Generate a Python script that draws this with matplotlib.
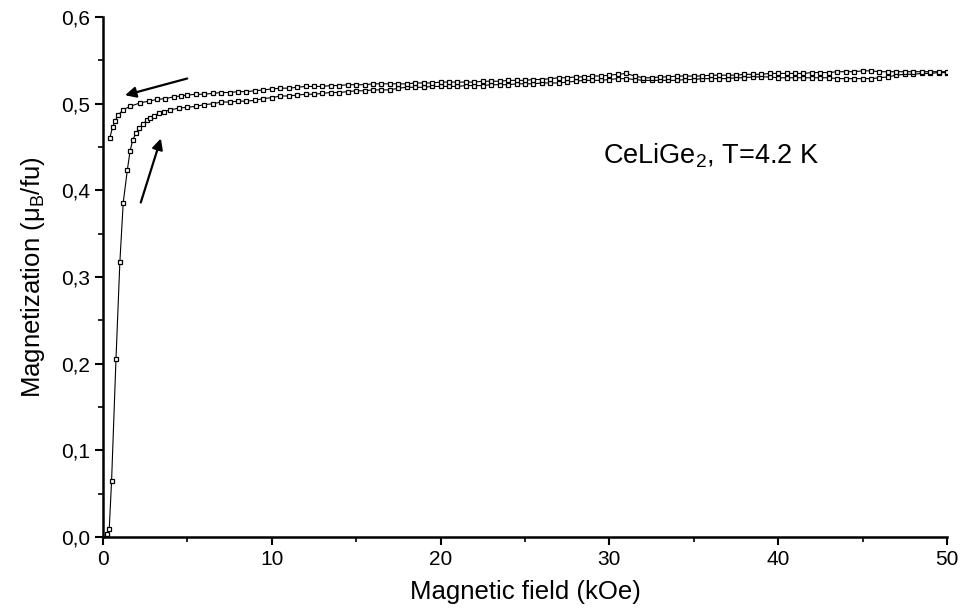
import numpy as np
import matplotlib.pyplot as plt
from matplotlib.ticker import MultipleLocator, FuncFormatter

# field sweep up (virgin curve), kOe and mu_B/fu
field_up = [0.25, 0.37, 0.51, 0.77, 1.0, 1.2, 1.44, 1.6, 1.76, 1.95, 2.15, 2.4, 2.6,
            2.8, 3.0, 3.3, 3.6, 4.0, 4.5] + [5.0 + 0.5 * i for i in range(91)]
mag_up = [0.003, 0.009, 0.065, 0.205, 0.317, 0.386, 0.423, 0.445, 0.458, 0.466, 0.472,
          0.477, 0.481, 0.484, 0.486, 0.489, 0.491, 0.493, 0.495,
          0.496, 0.497, 0.499, 0.500, 0.502, 0.502, 0.503, 0.503, 0.504, 0.506,
          0.507, 0.509, 0.509, 0.510, 0.511, 0.511, 0.512, 0.513, 0.513, 0.514,
          0.515, 0.515, 0.516, 0.516, 0.516, 0.518, 0.519, 0.519, 0.519, 0.520,
          0.520, 0.520, 0.520, 0.521, 0.521, 0.521, 0.522, 0.522, 0.522, 0.523,
          0.523, 0.523, 0.524, 0.524, 0.524, 0.525, 0.526, 0.527, 0.527, 0.527,
          0.528, 0.529, 0.529, 0.528, 0.527, 0.527, 0.527, 0.527, 0.527, 0.528,
          0.528, 0.529, 0.529, 0.529, 0.529, 0.530, 0.530, 0.531, 0.531, 0.531,
          0.530, 0.530, 0.530, 0.530, 0.530, 0.530, 0.530, 0.529, 0.529, 0.529,
          0.529, 0.529, 0.530, 0.531, 0.533, 0.534, 0.534, 0.535, 0.535, 0.536,
          0.536]

# field sweep down (listed in increasing field)
field_down = [0.41, 0.57, 0.71, 0.9, 1.2, 1.6, 2.2, 2.7, 3.2, 3.7, 4.2, 4.6] + \
             [5.0 + 0.5 * i for i in range(91)]
mag_down = [0.461, 0.473, 0.480, 0.487, 0.493, 0.497, 0.501, 0.503, 0.505, 0.506,
            0.508, 0.509,
            0.510, 0.511, 0.511, 0.512, 0.513, 0.513, 0.514, 0.514, 0.515, 0.516,
            0.517, 0.518, 0.518, 0.519, 0.520, 0.520, 0.520, 0.521, 0.521, 0.522,
            0.522, 0.522, 0.523, 0.523, 0.523, 0.523, 0.523, 0.524, 0.524, 0.524,
            0.525, 0.525, 0.525, 0.525, 0.525, 0.526, 0.526, 0.526, 0.527, 0.527,
            0.527, 0.528, 0.528, 0.529, 0.530, 0.530, 0.531, 0.531, 0.532, 0.532,
            0.533, 0.534, 0.535, 0.532, 0.530, 0.530, 0.531, 0.531, 0.532, 0.532,
            0.532, 0.532, 0.533, 0.533, 0.533, 0.533, 0.534, 0.534, 0.534, 0.535,
            0.535, 0.535, 0.535, 0.535, 0.536, 0.536, 0.536, 0.537, 0.537, 0.537,
            0.538, 0.538, 0.537, 0.537, 0.537, 0.537, 0.537, 0.537, 0.537, 0.537,
            0.537]

x_ticks = [0, 10, 20, 30, 40, 50]
y_ticks = [0.0, 0.1, 0.2, 0.3, 0.4, 0.5, 0.6]

plt.rcParams['font.family'] = ['Liberation Sans', 'DejaVu Sans']

fig = plt.figure(figsize=(9.66, 6.11), dpi=100)
ax = fig.add_axes([0.1066, 0.121, 0.8737, 0.851])

style = dict(color='black', lw=0.8, marker='s', markersize=3.4,
             markerfacecolor='white', markeredgecolor='black', markeredgewidth=0.9)
ax.plot(field_up, mag_up, **style)
ax.plot(field_down, mag_down, **style)

ax.set_xlim(0, 50)
ax.set_ylim(0, 0.6)
ax.set_xticks(x_ticks)
ax.set_yticks(y_ticks)
ax.xaxis.set_minor_locator(MultipleLocator(5))
ax.yaxis.set_minor_locator(MultipleLocator(0.05))
ax.yaxis.set_major_formatter(FuncFormatter(lambda v, p: f'{v:.1f}'.replace('.', ',')))

for s in ['top', 'right']:
    ax.spines[s].set_visible(False)
for s in ['left', 'bottom']:
    ax.spines[s].set_linewidth(1.8)

ax.tick_params(which='major', direction='out', length=6, width=1.5, labelsize=15)
ax.tick_params(which='minor', direction='out', length=3.5, width=1.2)

ax.set_xlabel('Magnetic field (kOe)', fontsize=18.5, labelpad=8)
ax.set_ylabel('Magnetization (μ$_\\mathregular{B}$/fu)', fontsize=18.5, labelpad=10)

ax.text(36.0, 0.44, 'CeLiGe$_\\mathregular{2}$, T=4.2 K', fontsize=19.5,
        ha='center', va='center')

arrow = dict(arrowstyle='-|>', color='black', lw=1.6, mutation_scale=16)
ax.annotate('', xy=(1.15, 0.509), xytext=(5.15, 0.530), arrowprops=arrow)
ax.annotate('', xy=(3.48, 0.463), xytext=(2.19, 0.383), arrowprops=arrow)

fig.savefig('out.png', dpi=100)
